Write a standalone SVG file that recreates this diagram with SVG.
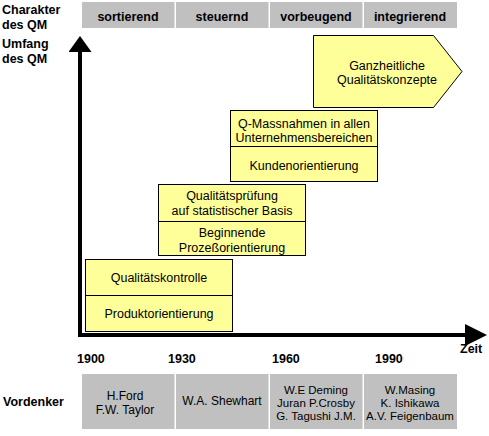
<svg xmlns="http://www.w3.org/2000/svg" width="489" height="436" viewBox="0 0 489 436">
<style>
text{font-family:"Liberation Sans",Arial,sans-serif;fill:#000}
.b{font-weight:bold;font-size:12.5px}
.t{font-size:12.5px;text-anchor:middle}
.c{font-size:12px;text-anchor:middle}
.c3{font-size:11.5px;text-anchor:middle}
.h{font-weight:bold;font-size:12.5px;text-anchor:middle}
.cell{fill:#c0c0c0}
.box{fill:#ffff99;stroke:#000;stroke-width:1}
.div{stroke:#000;stroke-width:1}
.axis{stroke:#000;stroke-width:4;fill:none}
</style>
<defs>
<marker id="arrV" markerUnits="userSpaceOnUse" viewBox="0 0 16 23" refX="0" refY="11.5" markerWidth="16" markerHeight="23" orient="auto">
<path d="M0,0 L16,11.5 L0,23 z" fill="#000"/>
</marker>
<marker id="arrH" markerUnits="userSpaceOnUse" viewBox="0 0 22 22" refX="0" refY="11" markerWidth="22" markerHeight="22" orient="auto">
<path d="M0,0 L22,11 L0,22 z" fill="#000"/>
</marker>
<clipPath id="clip2"><rect x="158.5" y="184.5" width="147" height="71"/></clipPath>
</defs>
<rect width="489" height="436" fill="#fff"/>

<g id="labels">
<text class="b" x="2" y="14">Charakter</text>
<text class="b" x="2" y="29">des QM</text>
<text class="b" x="2" y="48">Umfang</text>
<text class="b" x="2" y="63">des QM</text>
<text class="b" x="3" y="406">Vordenker</text>
<text class="b" x="460" y="353">Zeit</text>
<text class="b" x="77" y="363">1900</text>
<text class="b" x="168" y="363">1930</text>
<text class="b" x="272" y="363">1960</text>
<text class="b" x="375" y="363">1990</text>
</g>

<g id="header">
<rect class="cell" x="82" y="2" width="92.5" height="26"/>
<rect class="cell" x="176" y="2" width="92.5" height="26"/>
<rect class="cell" x="270" y="2" width="92.5" height="26"/>
<rect class="cell" x="364" y="2" width="93" height="26"/>
<text class="h" x="128" y="21">sortierend</text>
<text class="h" x="222" y="21">steuernd</text>
<text class="h" x="316" y="21">vorbeugend</text>
<text class="h" x="410" y="21">integrierend</text>
</g>

<g id="connectors">
<line class="axis" x1="80" y1="337" x2="80" y2="52" marker-end="url(#arrV)"/>
<line class="axis" x1="78" y1="335" x2="465" y2="335" marker-end="url(#arrH)"/>
</g>

<g id="box1">
<rect class="box" x="85.5" y="259.5" width="147" height="72"/>
<line class="div" x1="85.5" y1="295.5" x2="232.5" y2="295.5"/>
<text class="t" x="159" y="282">Qualitätskontrolle</text>
<text class="t" x="159" y="318">Produktorientierung</text>
</g>

<g id="box2">
<rect class="box" x="158.5" y="184.5" width="147" height="71"/>
<line class="div" x1="158.5" y1="221.5" x2="305.5" y2="221.5"/>
<text class="t" x="232" y="200">Qualitätsprüfung</text>
<text class="t" x="232" y="215">auf statistischer Basis</text>
<g clip-path="url(#clip2)">
<text class="t" x="232" y="237">Beginnende</text>
<text class="t" x="232" y="252">Prozeßorientierung</text>
</g>
</g>

<g id="box3">
<rect class="box" x="230.5" y="110.5" width="147" height="71"/>
<line class="div" x1="230.5" y1="146.5" x2="377.5" y2="146.5"/>
<text class="t" x="304" y="127.5">Q-Massnahmen in allen</text>
<text class="t" x="304" y="141.5">Unternehmensbereichen</text>
<text class="t" x="304" y="170">Kundenorientierung</text>
</g>

<g id="box4">
<polygon class="box" points="313.5,35.5 433.5,35.5 462,71.5 433.5,107.5 313.5,107.5"/>
<text class="t" x="387" y="70">Ganzheitliche</text>
<text class="t" x="387" y="83.5">Qualitätskonzepte</text>
</g>

<g id="vordenker">
<rect class="cell" x="82" y="374" width="92.5" height="55"/>
<rect class="cell" x="176" y="374" width="92.5" height="55"/>
<rect class="cell" x="270" y="374" width="92.5" height="55"/>
<rect class="cell" x="364" y="374" width="93" height="55"/>
<text class="c" x="125" y="400">H.Ford</text>
<text class="c" x="125" y="414">F.W. Taylor</text>
<text class="c" x="222" y="405">W.A. Shewhart</text>
<text class="c3" x="316" y="394">W.E Deming</text>
<text class="c3" x="316" y="407">Juran P.Crosby</text>
<text class="c3" x="316" y="420">G. Tagushi J.M.</text>
<text class="c3" x="410" y="394">W.Masing</text>
<text class="c3" x="410" y="407">K. Ishikawa</text>
<text class="c3" x="410" y="420">A.V. Feigenbaum</text>
</g>
</svg>
